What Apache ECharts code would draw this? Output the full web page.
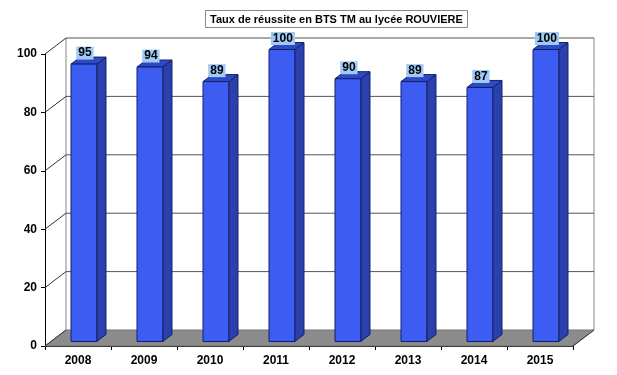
<!DOCTYPE html>
<html>
<head>
<meta charset="utf-8">
<script src="https://cdn.jsdelivr.net/npm/echarts@6/dist/echarts.min.js"></script>
<style>html,body{margin:0;padding:0;background:#fff;}#c{width:617px;height:375px;}</style>
</head>
<body>
<div id="c"></div>
<script>
const titleText = 'Taux de réussite en BTS TM au lycée ROUVIERE';
const categories = ['2008', '2009', '2010', '2011', '2012', '2013', '2014', '2015'];
const values = [95, 94, 89, 100, 90, 89, 87, 100];
const yTicks = [0, 20, 40, 60, 80, 100];

const DX = 21, DY = -16;           // depth of the 3D box
const FONT = 'Arial, "Liberation Sans", sans-serif';

const chart = echarts.init(document.getElementById('c'), null, {renderer: 'canvas'});

function frameItem(params, api) {
  const v = api.value(0);
  const n = categories.length;
  const cw = api.size([1, 0])[0];
  const pL = api.coord([0, v]);
  const pR = api.coord([n - 1, v]);
  const xl = pL[0] - cw / 2, xr = pR[0] + cw / 2, y = pL[1];
  const children = [];
  const gridStyle = {stroke: '#555', lineWidth: 1, fill: null};
  if (v === 0) {
    const yTop = api.coord([0, 100])[1];
    children.push({type: 'polygon', shape: {points: [[xl, y], [xr, y], [xr + DX, y + DY], [xl + DX, y + DY]]},
      style: {fill: '#8c8c8c', stroke: '#777', lineWidth: 1}});
    children.push({type: 'line', shape: {x1: xl + DX, y1: y + DY, x2: xl + DX, y2: yTop + DY}, style: {stroke: '#888', lineWidth: 1}});
    children.push({type: 'line', shape: {x1: xr + DX, y1: y + DY, x2: xr + DX, y2: yTop + DY}, style: {stroke: '#888', lineWidth: 1}});
    children.push({type: 'line', shape: {x1: xr, y1: y, x2: xr + DX, y2: y + DY}, style: {stroke: '#333', lineWidth: 1}});
  } else {
    children.push({type: 'line', shape: {x1: xl + DX, y1: y + DY, x2: xr + DX, y2: y + DY}, style: gridStyle});
  }
  children.push({type: 'line', shape: {x1: xl, y1: y, x2: xl + DX, y2: y + DY}, style: {stroke: '#333', lineWidth: 1}});
  return {type: 'group', children: children};
}

function barItem(params, api) {
  const idx = api.value(0), val = api.value(1);
  const cw = api.size([1, 0])[0];
  const bw = cw * 0.39;
  const p = api.coord([idx, val]);
  const p0 = api.coord([idx, 0]);
  const sx = DX * 0.28, sy = DY * 0.28;
  const dx = DX * 0.44, dy = DY * 0.44;
  const x0 = p[0] - bw / 2 + sx, x1 = x0 + bw;
  const yT = p[1] + sy, yB = p0[1] + sy;
  const edge = '#10206a';
  return {
    type: 'group',
    children: [
      {type: 'polygon', shape: {points: [[x1, yT], [x1 + dx, yT + dy], [x1 + dx, yB + dy], [x1, yB]]},
        style: {fill: '#2b40ad', stroke: edge, lineWidth: 1}},
      {type: 'polygon', shape: {points: [[x0, yT], [x1, yT], [x1 + dx, yT + dy], [x0 + dx, yT + dy]]},
        style: {fill: '#2f48c4', stroke: edge, lineWidth: 1}},
      {type: 'rect', shape: {x: x0, y: yT, width: bw, height: yB - yT},
        style: {fill: '#3d5cf2', stroke: edge, lineWidth: 1}},
      {type: 'text', x: x0 + bw / 2 + 1, y: yT - 11,
        style: {text: String(val), fill: '#000', font: 'bold 12px ' + FONT, align: 'center', verticalAlign: 'middle',
          backgroundColor: '#9fcaf6', padding: [1, 2, 0, 2], lineHeight: 12}}
    ]
  };
}

chart.setOption({
  animation: false,
  backgroundColor: '#ffffff',
  title: {
    text: titleText,
    left: 205, top: 10,
    borderColor: '#888', borderWidth: 1,
    padding: [4, 5, 3, 5],
    textStyle: {fontFamily: FONT, fontWeight: 'bold', fontSize: 11, color: '#000'}
  },
  grid: {left: 45, right: 44, top: 54, bottom: 29},
  xAxis: {
    type: 'category', data: categories, boundaryGap: true,
    axisLine: {show: true, lineStyle: {color: '#000', width: 1}},
    axisTick: {show: true, interval: 0, length: 4, lineStyle: {color: '#000'}},
    axisLabel: {fontFamily: FONT, fontWeight: 'bold', fontSize: 12, color: '#000', margin: 9}
  },
  yAxis: {
    type: 'value', min: 0, max: 100, interval: 20,
    axisLine: {show: true, lineStyle: {color: '#000', width: 1}},
    axisTick: {show: true, length: 4, lineStyle: {color: '#000'}},
    splitLine: {show: false},
    axisLabel: {fontFamily: FONT, fontWeight: 'bold', fontSize: 12, color: '#000', margin: 8}
  },
  series: [
    {type: 'custom', renderItem: frameItem, data: yTicks.map(v => [v]), encode: {y: 0}, z: 1, silent: true},
    {type: 'custom', renderItem: barItem, data: values.map((v, i) => [i, v]), encode: {x: 0, y: 1}, z: 3}
  ]
});
</script>
</body>
</html>
